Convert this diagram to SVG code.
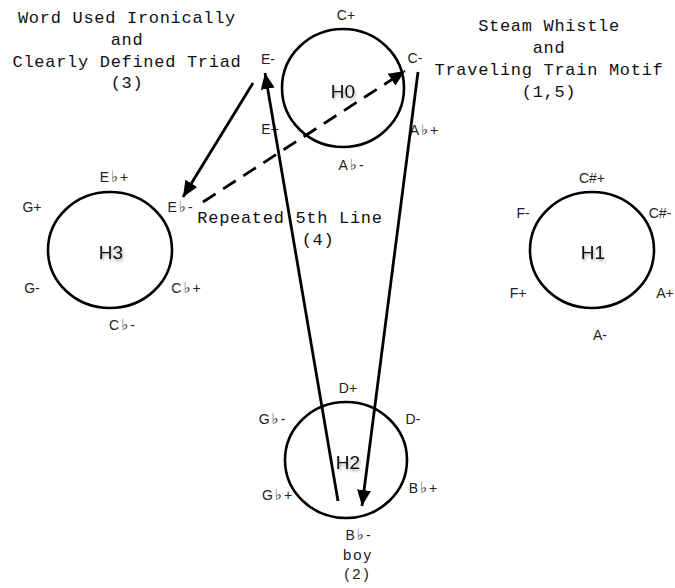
<svg xmlns="http://www.w3.org/2000/svg" width="675" height="588" viewBox="0 0 675 588">
<style>
.ring{fill:none;stroke:#000;stroke-width:2.6}
.hl{font-family:"Liberation Sans",Arial,sans-serif;font-size:19px;fill:#111;text-anchor:middle;filter:url(#glow)}
.lb{font-family:"Liberation Sans",Arial,sans-serif;font-size:14px;fill:#222;text-anchor:middle}
.fl{letter-spacing:2px}
.f{font-family:"DejaVu Serif","DejaVu Sans",serif;font-size:15px}
.bt{font-family:"Liberation Sans",Arial,sans-serif;font-size:15px;fill:#222;text-anchor:middle;letter-spacing:2px}
.mono{font-family:"Liberation Mono","Courier New",monospace;font-size:17px;fill:#111;text-anchor:middle;letter-spacing:0.7px}
.conn{stroke:#000;stroke-width:2.8;fill:none}
.dash{stroke-dasharray:15 9}
</style>
<defs>
<filter id="glow" x="-30%" y="-30%" width="160%" height="160%">
<feGaussianBlur in="SourceAlpha" stdDeviation="1.5" result="b"/>
<feOffset dx="1" dy="1.5" in="b" result="o"/>
<feComponentTransfer in="o" result="s"><feFuncA type="linear" slope="0.35"/></feComponentTransfer>
<feMerge><feMergeNode in="s"/><feMergeNode in="SourceGraphic"/></feMerge>
</filter>
<marker id="ah" markerUnits="userSpaceOnUse" viewBox="0 0 16 14" refX="16" refY="7" markerWidth="16" markerHeight="14" orient="auto">
<path d="M0,0 L16,7 L0,14 Z" fill="#000"/>
</marker>
</defs>
<rect width="675" height="588" fill="#fff"/>

<g id="title-left">
<text class="mono" x="127" y="23">Word Used Ironically</text>
<text class="mono" x="127" y="45">and</text>
<text class="mono" x="127" y="67">Clearly Defined Triad</text>
<text class="mono" x="127" y="88">(3)</text>
</g>
<g id="title-right">
<text class="mono" x="549" y="31">Steam Whistle</text>
<text class="mono" x="549" y="53">and</text>
<text class="mono" x="549" y="75">Traveling Train Motif</text>
<text class="mono" x="549" y="97">(1,5)</text>
</g>
<g id="label-4">
<text class="mono" x="290" y="223">Repeated 5th Line</text>
<text class="mono" x="318" y="245">(4)</text>
</g>

<g id="H0">
<ellipse class="ring" cx="343" cy="88" rx="61" ry="59"/>
<text class="hl" x="343" y="98">H0</text>
<text class="lb" x="346" y="20">C+</text>
<text class="lb" x="268" y="64">E-</text>
<text class="lb" x="415" y="63">C-</text>
<text class="lb" x="270" y="134">E+</text>
<text class="lb fl" x="425" y="135">A<tspan class="f">♭</tspan>+</text>
<text class="lb fl" x="352" y="170">A<tspan class="f">♭</tspan>-</text>
</g>

<g id="H3">
<ellipse class="ring" cx="110" cy="250" rx="62" ry="58"/>
<text class="hl" x="111" y="259">H3</text>
<text class="lb fl" x="115" y="182">E<tspan class="f">♭</tspan>+</text>
<text class="lb" x="32" y="212">G+</text>
<text class="lb fl" x="181" y="212">E<tspan class="f">♭</tspan>-</text>
<text class="lb" x="32" y="293">G-</text>
<text class="lb fl" x="187" y="293">C<tspan class="f">♭</tspan>+</text>
<text class="lb fl" x="123" y="330">C<tspan class="f">♭</tspan>-</text>
</g>

<g id="H1">
<ellipse class="ring" cx="592" cy="250" rx="62" ry="58"/>
<text class="hl" x="593" y="259">H1</text>
<text class="lb" x="592" y="183">C#+</text>
<text class="lb" x="523" y="218">F-</text>
<text class="lb" x="660" y="218">C#-</text>
<text class="lb" x="518" y="298">F+</text>
<text class="lb" x="665" y="298">A+</text>
<text class="lb" x="600" y="340">A-</text>
</g>

<g id="H2">
<ellipse class="ring" cx="346" cy="460" rx="61" ry="58"/>
<text class="hl" x="348" y="469">H2</text>
<text class="lb" x="348" y="393">D+</text>
<text class="lb fl" x="273" y="424">G<tspan class="f">♭</tspan>-</text>
<text class="lb" x="413" y="424">D-</text>
<text class="lb fl" x="278" y="500">G<tspan class="f">♭</tspan>+</text>
<text class="lb fl" x="424" y="493">B<tspan class="f">♭</tspan>+</text>
<text class="lb fl" x="359" y="540">B<tspan class="f">♭</tspan>-</text>
<text class="bt" x="358" y="560">boy</text>
<text class="bt" x="358" y="579" style="letter-spacing:3px">(2)</text>
</g>

<g id="connectors">
<line class="conn" x1="338" y1="501" x2="265" y2="73" marker-end="url(#ah)"/>
<line class="conn" x1="418" y1="72" x2="362" y2="506" marker-end="url(#ah)"/>
<line class="conn" x1="253" y1="83" x2="183" y2="197" marker-end="url(#ah)"/>
<line class="conn dash" x1="203" y1="202" x2="405" y2="71" marker-end="url(#ah)"/>
</g>
</svg>
